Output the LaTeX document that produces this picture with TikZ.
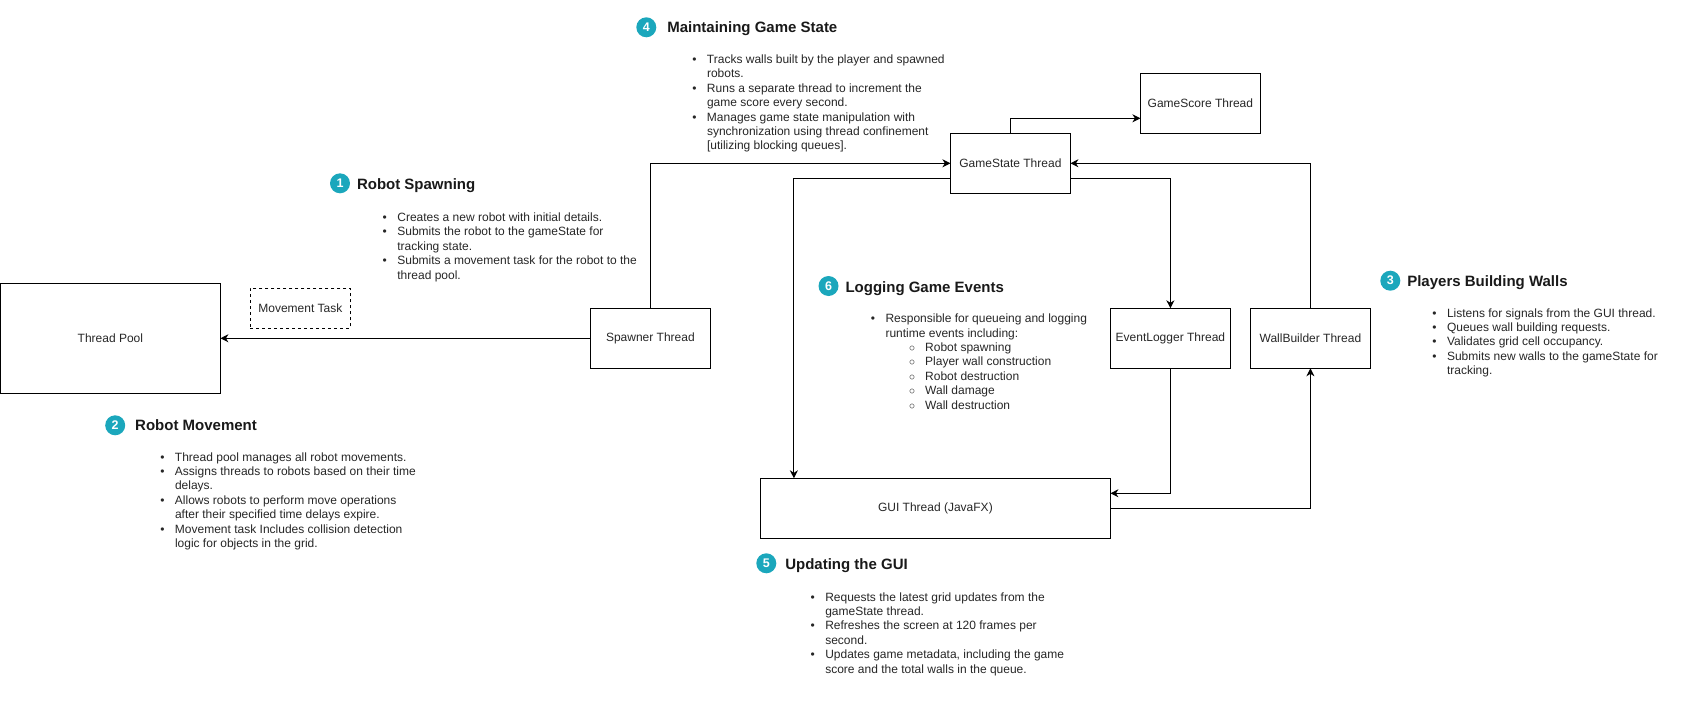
\documentclass[tikz,border=0pt]{standalone}
\usepackage{fontspec}
\setmainfont{Liberation Sans}
\usetikzlibrary{arrows.meta,positioning}
\definecolor{badgeteal}{HTML}{1BA7BC}
\newcommand{\bul}{\llap{\textbullet\hspace{10.5pt}}}
\newcommand{\sub}{\hspace*{39.7pt}\llap{$\circ$\hspace{10pt}}}

\begin{document}
\begin{tikzpicture}[
    x=1pt,y=1pt,
    line width=1pt,
    thread/.style={rectangle,draw,minimum width=120pt,minimum height=60pt,inner sep=0pt,outer sep=0pt,font=\fontsize{12}{14}\selectfont,text=black!85},
    task/.style={thread,dashed,minimum width=100pt,minimum height=40pt},
    badge/.style={circle,fill=badgeteal,text=white,minimum size=20pt,inner sep=0pt,outer sep=0pt,font=\fontsize{12.5}{13}\selectfont\bfseries},
    heading/.style={inner sep=0pt,outer sep=0pt,yshift=-1.5pt,font=\fontsize{15}{17}\selectfont\bfseries,text=black!90},
    points/.style={inner sep=0pt,outer sep=0pt,align=left,font=\fontsize{12}{14.4}\selectfont,text=black!85},
    arrow/.style={-{Stealth[length=8pt,width=8pt,inset=2.5pt]}}
]
\useasboundingbox (0,0) rectangle (1693,-709);

% Thread boxes
\node[thread] (gamestate) at (1010.4,-163.3) {GameState Thread};
\node[thread,above right=0pt and 70pt of gamestate] (gamescore) {GameScore Thread};
\node[thread,below left=115pt and 240pt of gamestate] (spawner) {Spawner Thread};
\node[thread,below right=115pt and 40pt of gamestate] (eventlogger) {EventLogger Thread};
\node[thread,right=20pt of eventlogger] (wallbuilder) {WallBuilder Thread};
\node[thread,minimum width=350pt,below left=110pt and 0pt of eventlogger] (gui) {GUI Thread (JavaFX)};
\node[thread,minimum width=220pt,minimum height=110pt,left=370pt of spawner] (threadpool) {Thread Pool};
\node[task,right=30pt of threadpool,yshift=30pt] (movetask) {Movement Task};

% Arrows between threads
\draw[arrow] (spawner) -- (threadpool);
\draw[arrow] (spawner.north) |- (gamestate.west);
\draw[arrow] (gamestate.north) |- ([yshift=-15pt]gamescore.west);
\draw[arrow] ([yshift=-15pt]gamestate.west) -| ([xshift=33.5pt]gui.north west);
\draw[arrow] ([yshift=-15pt]gamestate.east) -| (eventlogger.north);
\draw[arrow] (wallbuilder.north) |- (gamestate.east);
\draw[arrow] (eventlogger.south) |- ([yshift=15pt]gui.east);
\draw[arrow] (gui.east) -| (wallbuilder.south);

% 1 - Robot Spawning
\node[badge] (badge1) at (340,-183.3) {1};
\node[heading,right=7pt of badge1,yshift=-0.8pt] (title1) {Robot Spawning};
\node[points,below right=29.5pt and 57.4pt of badge1.center] (list1) {
    \bul Creates a new robot with initial details.\\
    \bul Submits the robot to the gameState for\\
    tracking state.\\
    \bul Submits a movement task for the robot to the\\
    thread pool.
};

% 2 - Robot Movement
\node[badge] (badge2) at (115.2,-425.3) {2};
\node[heading,right=10pt of badge2,yshift=2pt] (title2) {Robot Movement};
\node[points,below right=27pt and 59.8pt of badge2.center] (list2) {
    \bul Thread pool manages all robot movements.\\
    \bul Assigns threads to robots based on their time\\
    delays.\\
    \bul Allows robots to perform move operations\\
    after their specified time delays expire.\\
    \bul Movement task Includes collision detection\\
    logic for objects in the grid.
};

% 3 - Players Building Walls
\node[badge] (badge3) at (1390.3,-280.7) {3};
\node[heading,right=7pt of badge3] (title3) {Players Building Walls};
\node[points,below right=27.7pt and 56.7pt of badge3.center] (list3) {
    \bul Listens for signals from the GUI thread.\\
    \bul Queues wall building requests.\\
    \bul Validates grid cell occupancy.\\
    \bul Submits new walls to the gameState for\\
    tracking.
};

% 4 - Maintaining Game State
\node[badge] (badge4) at (646.3,-27.3) {4};
\node[heading,right=11pt of badge4] (title4) {Maintaining Game State};
\node[points,below right=27.5pt and 60.7pt of badge4.center] (list4) {
    \bul Tracks walls built by the player and spawned\\
    robots.\\
    \bul Runs a separate thread to increment the\\
    game score every second.\\
    \bul Manages game state manipulation with\\
    synchronization using thread confinement\\
    {[}utilizing blocking queues].
};

% 5 - Updating the GUI
\node[badge] (badge5) at (766.3,-563.3) {5};
\node[heading,right=9pt of badge5,yshift=-0.8pt] (title5) {Updating the GUI};
\node[points,below right=29pt and 59pt of badge5.center] (list5) {
    \bul Requests the latest grid updates from the\\
    gameState thread.\\
    \bul Refreshes the screen at 120 frames per\\
    second.\\
    \bul Updates game metadata, including the game\\
    score and the total walls in the queue.
};

% 6 - Logging Game Events
\node[badge] (badge6) at (828.5,-286) {6};
\node[heading,right=7pt of badge6,yshift=-0.8pt] (title6) {Logging Game Events};
\node[points,below right=28pt and 57pt of badge6.center] (list6) {
    \bul Responsible for queueing and logging\\
    runtime events including:\\
    \sub Robot spawning\\
    \sub Player wall construction\\
    \sub Robot destruction\\
    \sub Wall damage\\
    \sub Wall destruction
};

\end{tikzpicture}
\end{document}
